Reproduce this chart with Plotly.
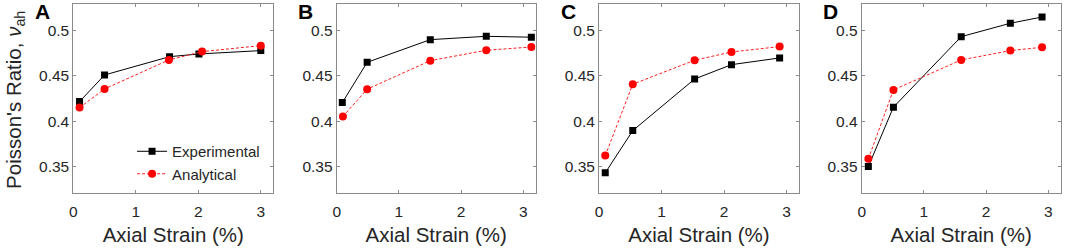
import plotly.graph_objects as go

# ---- data ----
panels = ["A", "B", "C", "D"]

exp_x_A = [0.1, 0.5, 1.54, 2.01, 3.0]
exp_y_A = [0.4217, 0.4511, 0.4713, 0.4743, 0.478]
ana_x_A = [0.1, 0.5, 1.53, 2.06, 3.0]
ana_y_A = [0.4151, 0.4357, 0.4677, 0.4769, 0.4835]

exp_x_B = [0.09, 0.49, 1.505, 2.405, 3.13]
exp_y_B = [0.4206, 0.4651, 0.4901, 0.4938, 0.4928]
ana_x_B = [0.1, 0.49, 1.505, 2.405, 3.13]
ana_y_B = [0.4052, 0.4354, 0.4669, 0.4784, 0.482]

exp_x_C = [0.1, 0.54, 1.53, 2.12, 2.89]
exp_y_C = [0.3431, 0.3897, 0.4467, 0.4625, 0.4699]
ana_x_C = [0.1, 0.54, 1.53, 2.12, 2.89]
ana_y_C = [0.3621, 0.4409, 0.4674, 0.4765, 0.4824]

exp_x_D = [0.107, 0.51, 1.6, 2.39, 2.9]
exp_y_D = [0.35, 0.4155, 0.4934, 0.5082, 0.5151]
ana_x_D = [0.107, 0.51, 1.6, 2.39, 2.9]
ana_y_D = [0.3585, 0.4346, 0.4677, 0.478, 0.4817]

x_ticks = [0, 1, 2, 3]
y_ticks = [0.35, 0.4, 0.45, 0.5]
y_tick_labels = ["0.35", "0.4", "0.45", "0.5"]

series = {
    "A": (exp_x_A, exp_y_A, ana_x_A, ana_y_A),
    "B": (exp_x_B, exp_y_B, ana_x_B, ana_y_B),
    "C": (exp_x_C, exp_y_C, ana_x_C, ana_y_C),
    "D": (exp_x_D, exp_y_D, ana_x_D, ana_y_D),
}

# ---- layout geometry ----
W, H = 1065, 251
x_doms = [(73.3, 273.3), (336.7, 535.7), (599.0, 799.0), (861.7, 1060.7)]
y_dom = (1 - 193.3 / H, 1 - 3.5 / H)

FONT = "Liberation Sans, Arial, Helvetica, sans-serif"
AXC = "#8a8a8a"
TXT = "#262626"

fig = go.Figure()
layout = dict(
    width=W, height=H,
    margin=dict(l=0, r=0, t=0, b=0),
    paper_bgcolor="white", plot_bgcolor="white",
    font=dict(family=FONT, color=TXT, size=15),
    showlegend=True,
    legend=dict(x=0.124, y=0.462, xanchor="left", yanchor="top",
                bgcolor="rgba(0,0,0,0)", borderwidth=0,
                font=dict(size=15, family=FONT, color=TXT),
                tracegroupgap=0, itemwidth=30),
)
annotations = []

for i, p in enumerate(panels):
    ex, ey, ax_, ay = series[p]
    suffix = "" if i == 0 else str(i + 1)
    xa = "x" + suffix
    ya = "y" + suffix
    fig.add_trace(go.Scatter(
        x=ex, y=ey, xaxis=xa, yaxis=ya, mode="lines+markers",
        name="Experimental", showlegend=(i == 0),
        line=dict(color="black", width=1),
        marker=dict(symbol="square", size=7, color="black"),
    ))
    fig.add_trace(go.Scatter(
        x=ax_, y=ay, xaxis=xa, yaxis=ya, mode="lines+markers",
        name="Analytical", showlegend=(i == 0),
        line=dict(color="#ff2020", width=1, dash="3px,2px"),
        marker=dict(symbol="circle", size=8, color="#ff0000"),
    ))
    d0, d1 = x_doms[i]
    layout["xaxis" + suffix] = dict(
        domain=[d0 / W, d1 / W], anchor=ya, range=[0, 3.2],
        tickvals=x_ticks, ticks="inside", ticklen=3, tickcolor=AXC,
        showline=True, linecolor=AXC, linewidth=1, mirror="ticks",
        showgrid=False, zeroline=False,
        tickfont=dict(size=15.5, color=TXT, family=FONT),
        ticklabelstandoff=4,
        title=dict(text="Axial Strain (%)", font=dict(size=20.5, color=TXT, family=FONT), standoff=8),
        automargin=False,
    )
    layout["yaxis" + suffix] = dict(
        domain=list(y_dom), anchor=xa, range=[0.3205, 0.53],
        tickvals=y_ticks, ticktext=y_tick_labels,
        ticks="inside", ticklen=3, tickcolor=AXC,
        showline=True, linecolor=AXC, linewidth=1, mirror="ticks",
        showgrid=False, zeroline=False,
        tickfont=dict(size=15.5, color=TXT, family=FONT),
        automargin=False,
    )
    # panel letter
    annotations.append(dict(
        text="<b>%s</b>" % p, xref="paper", yref="paper",
        x=(d0 - 31) / W, y=1 - 11.5 / H, xanchor="center", yanchor="middle",
        showarrow=False, font=dict(size=21, color="black", family=FONT),
    ))

annotations.append(dict(
    text="Poisson's Ratio, <i>ν</i><sub>ah</sub>", xref="paper", yref="paper",
    x=0 / W, y=(y_dom[0] + y_dom[1]) / 2 - 1.5 / H, xanchor="left", yanchor="middle",
    textangle=-90, showarrow=False, font=dict(size=20.5, color=TXT, family=FONT),
))
layout["annotations"] = annotations
fig.update_layout(**layout)
fig.write_html("out.html", config={"displayModeBar": False},
               post_script="document.body.style.margin='0px';")
